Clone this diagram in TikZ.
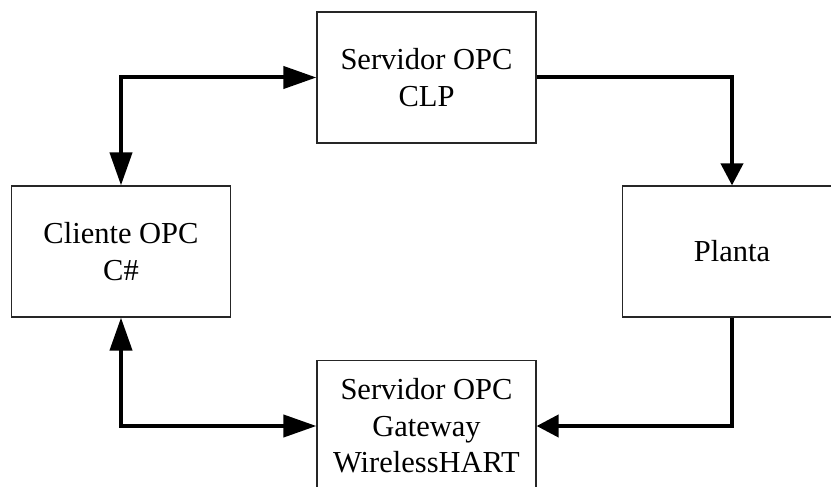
\documentclass[tikz,border=0pt]{standalone}
\usepackage{fontspec}
\setmainfont{Liberation Serif}
\usetikzlibrary{arrows.meta}
\begin{document}
\begin{tikzpicture}[x=1pt,y=-1pt,
  block/.style={draw=black!85,line width=1.2pt,fill=white,minimum width=219pt,
    minimum height=131pt,inner sep=0pt,align=center,
    font=\fontsize{30.5}{36.6}\selectfont},
  link/.style={line width=4pt},
  bigtip/.style={-{Triangle[length=33pt,width=22pt]}},
  bothtips/.style={{Triangle[length=33pt,width=22pt]}-{Triangle[length=33pt,width=22pt]}},
  smalltip/.style={-{Triangle[length=22pt,width=22pt]}}]
\useasboundingbox (0,0) rectangle (831,487);
\clip (0,0) rectangle (831,487);
% blocks
\node[block] (clp) at (426.5,77.5) {Servidor OPC\\CLP};
\node[block] (cli) at (121,251.5) {Cliente OPC\\C\#};
\node[block] (pla) at (732,251.5) {Planta};
\node[block] (gw) at (426.5,426) {Servidor OPC\\Gateway\\WirelessHART};
% connectors
\draw[link,bothtips] (cli.north) |- (clp.west);
\draw[link,smalltip] (clp.east) -| (pla.north);
\draw[link,smalltip] (pla.south) |- (gw.east);
\draw[link,bothtips] (cli.south) |- (gw.west);
\end{tikzpicture}
\end{document}
